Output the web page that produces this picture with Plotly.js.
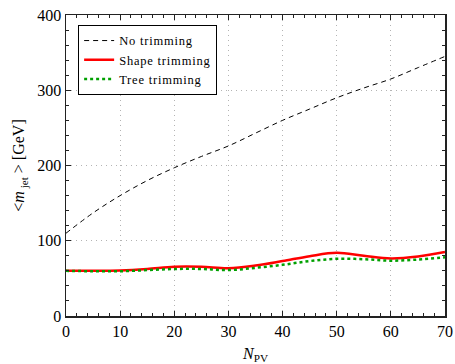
<!DOCTYPE html>
<html>
<head>
<meta charset="utf-8">
<script src="https://cdn.plot.ly/plotly-3.0.1.min.js"></script>
<style>
  html, body { margin: 0; padding: 0; background: #fff; }
  #chart { width: 455px; height: 364px; }
  .legendtext { letter-spacing: 0.8px; }
</style>
</head>
<body>
<div id="chart"></div>
<script>
// Number of primary vertices
const nPV = [0, 5, 10, 15, 20, 25, 30, 35, 40, 45, 50, 55, 60, 65, 70];

// Mean jet mass [GeV] for each trimming choice
const noTrimming    = [110, 137, 160, 180, 197, 212, 226, 243, 260, 275, 290, 303, 315, 330, 345];
const shapeTrimming = [60, 60, 60.5, 62.5, 65.5, 65.5, 63.5, 67, 73, 79.5, 84, 80, 76.5, 79, 85];
const treeTrimming  = [60, 59.5, 59.5, 61, 62.5, 62.5, 61, 64, 68, 73, 76, 75.5, 73.5, 75, 78];

const seriesNames = ['No trimming', 'Shape trimming', 'Tree trimming'];
const xTicks = [0, 10, 20, 30, 40, 50, 60, 70];
const yTicks = [0, 100, 200, 300, 400];

const serif = '"Liberation Serif", "Times New Roman", serif';

const traces = [
  {
    x: nPV, y: noTrimming, name: seriesNames[0], mode: 'lines',
    line: { color: '#000000', width: 1, dash: '5px,4px', shape: 'spline' }
  },
  {
    x: nPV, y: shapeTrimming, name: seriesNames[1], mode: 'lines',
    line: { color: '#ff0000', width: 2.5, shape: 'spline' }
  },
  {
    x: nPV, y: treeTrimming, name: seriesNames[2], mode: 'lines',
    line: { color: '#00a000', width: 2.5, dash: 'dot', shape: 'spline' }
  }
];

const axisCommon = {
  showline: true, linecolor: '#222', linewidth: 1.5, mirror: 'allticks',
  ticks: 'inside', ticklen: 5, tickcolor: '#222', tickwidth: 1,
  showgrid: true, gridcolor: '#b4b4b4', griddash: '1px,4px', gridwidth: 1,
  zeroline: false,
  tickfont: { family: serif, size: 16, color: '#000' }
};

const layout = {
  width: 455, height: 364,
  margin: { l: 66, r: 10, t: 15, b: 48 },
  paper_bgcolor: '#fff', plot_bgcolor: '#fff',
  font: { family: serif, size: 12, color: '#000' },
  showlegend: true,
  legend: {
    x: 0.032, y: 0.967, xanchor: 'left', yanchor: 'top',
    bgcolor: '#fff', bordercolor: '#000', borderwidth: 1,
    font: { family: serif, size: 12.5, color: '#000' },
    tracegroupgap: 0, itemwidth: 30
  },
  xaxis: Object.assign({}, axisCommon, {
    range: [0, 70], tickvals: xTicks, ticktext: xTicks.map(String),
    minor: { ticks: 'inside', dtick: 2, tick0: 0, ticklen: 3, tickcolor: '#222', showgrid: false },
    title: { text: '<i>N</i><sub>PV</sub>', font: { family: serif, size: 16, color: '#000' }, standoff: 10 }
  }),
  yaxis: Object.assign({}, axisCommon, {
    range: [0, 400], tickvals: yTicks, ticktext: yTicks.map(String),
    minor: { ticks: 'inside', dtick: 20, tick0: 0, ticklen: 3, tickcolor: '#222', showgrid: false },
    title: { text: '&lt;<i>m</i><sub> jet</sub> &gt; [GeV]', font: { family: serif, size: 16, color: '#000' }, standoff: 8 }
  })
};

Plotly.newPlot('chart', traces, layout, { displayModeBar: false, staticPlot: true });
</script>
</body>
</html>
